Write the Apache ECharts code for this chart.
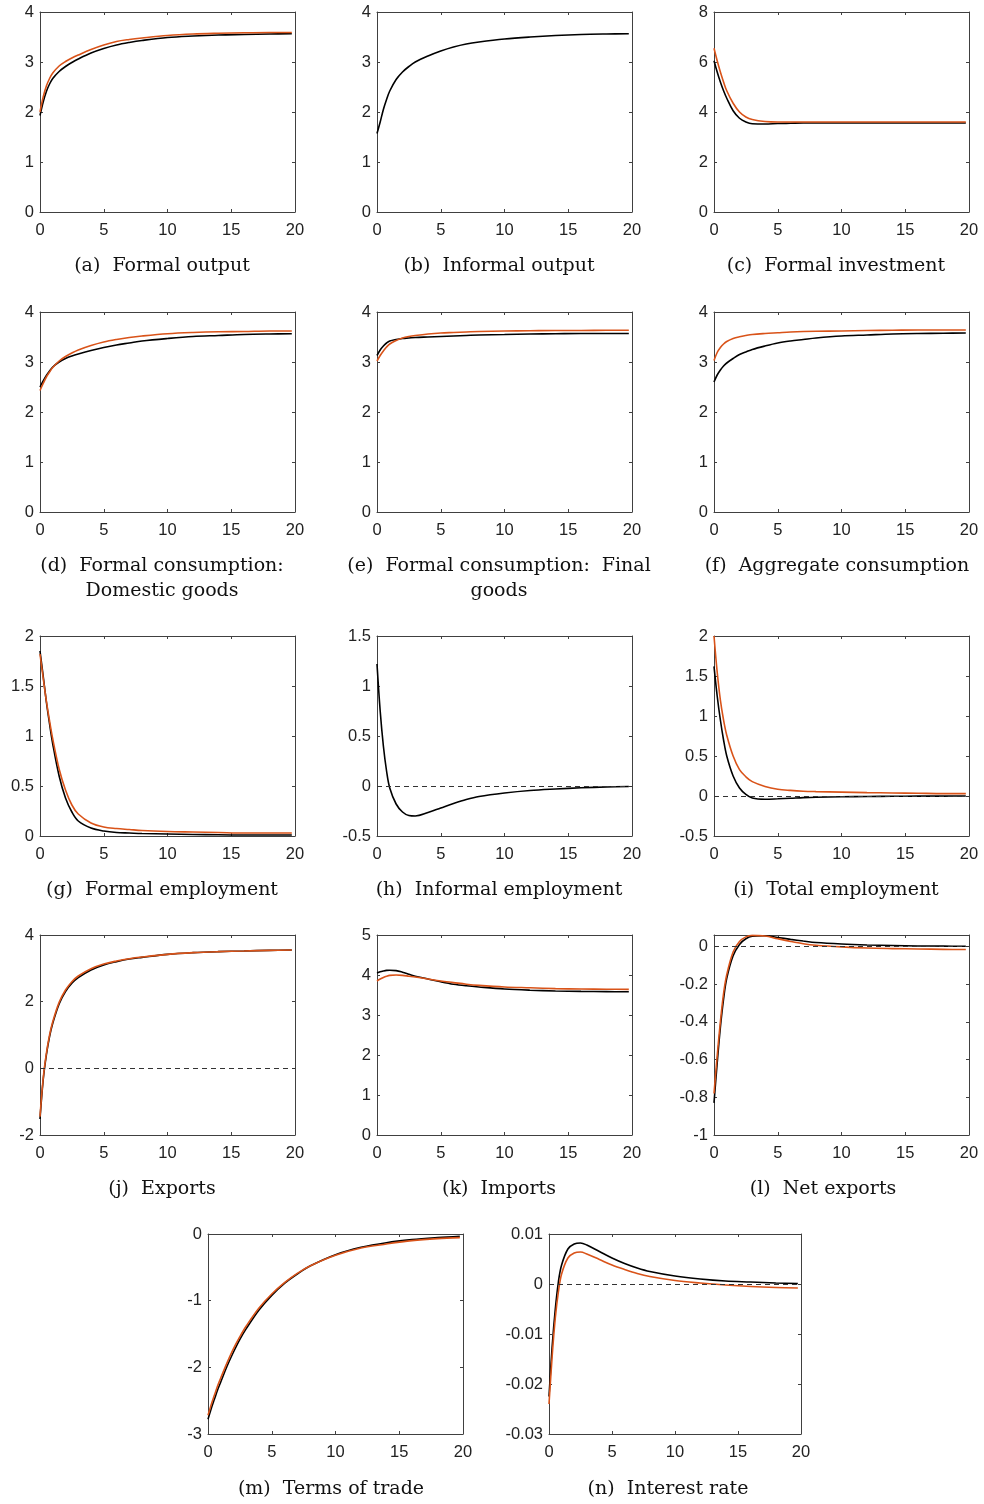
<!DOCTYPE html>
<html>
<head>
<meta charset="utf-8">
<script src="https://cdn.jsdelivr.net/npm/echarts@6/dist/echarts.min.js"></script>
<style>
  html, body { margin: 0; padding: 0; background: #ffffff; }
  #chart { width: 984px; height: 1504px; }
</style>
</head>
<body>
<div id="chart"></div>
<script>
// Horizon (quarters) shared by every impulse response
const periods = [0, 0.25, 0.5, 0.75, 1, 1.5, 2, 2.5, 3, 4, 5, 6, 7, 8, 10, 12, 14, 16, 18, 19.75];

// (a) Formal output
const formalOutputBase = [1.93, 2.2, 2.41, 2.56, 2.67, 2.81, 2.91, 2.99, 3.06, 3.18, 3.27, 3.34, 3.39, 3.43, 3.49, 3.52, 3.54, 3.55, 3.56, 3.565];
const formalOutputAlt  = [2.0, 2.3, 2.52, 2.67, 2.78, 2.92, 3.01, 3.08, 3.14, 3.25, 3.34, 3.41, 3.45, 3.48, 3.53, 3.56, 3.575, 3.585, 3.59, 3.59];
// (b) Informal output
const informalOutputBase = [1.57, 1.8, 2.05, 2.25, 2.42, 2.65, 2.8, 2.91, 3.0, 3.12, 3.22, 3.3, 3.36, 3.4, 3.46, 3.5, 3.53, 3.55, 3.56, 3.565];
// (c) Formal investment
const formalInvestmentBase = [6.05, 5.6, 5.2, 4.85, 4.55, 4.05, 3.75, 3.6, 3.53, 3.52, 3.54, 3.55, 3.56, 3.56, 3.56, 3.56, 3.56, 3.56, 3.56, 3.56];
const formalInvestmentAlt  = [6.55, 6.05, 5.6, 5.2, 4.85, 4.35, 4.0, 3.8, 3.7, 3.62, 3.6, 3.6, 3.6, 3.6, 3.6, 3.6, 3.6, 3.6, 3.6, 3.6];
// (d) Formal consumption: domestic goods
const consDomesticBase = [2.5, 2.62, 2.73, 2.82, 2.9, 3.0, 3.07, 3.12, 3.16, 3.23, 3.29, 3.34, 3.38, 3.42, 3.47, 3.51, 3.53, 3.55, 3.56, 3.565];
const consDomesticAlt  = [2.43, 2.57, 2.7, 2.8, 2.89, 3.02, 3.11, 3.18, 3.24, 3.33, 3.4, 3.45, 3.49, 3.52, 3.565, 3.59, 3.605, 3.61, 3.62, 3.62];
// (e) Formal consumption: final goods
const consFinalBase = [3.13, 3.24, 3.32, 3.38, 3.42, 3.45, 3.47, 3.48, 3.49, 3.5, 3.51, 3.52, 3.53, 3.54, 3.55, 3.56, 3.565, 3.57, 3.57, 3.57];
const consFinalAlt  = [3.02, 3.13, 3.22, 3.3, 3.36, 3.43, 3.48, 3.51, 3.53, 3.56, 3.58, 3.59, 3.6, 3.61, 3.62, 3.625, 3.63, 3.63, 3.635, 3.635];
// (f) Aggregate consumption
const consAggregateBase = [2.6, 2.74, 2.84, 2.92, 2.98, 3.07, 3.15, 3.2, 3.25, 3.32, 3.38, 3.42, 3.45, 3.48, 3.52, 3.54, 3.56, 3.57, 3.575, 3.58];
const consAggregateAlt  = [3.03, 3.19, 3.29, 3.36, 3.41, 3.47, 3.505, 3.53, 3.55, 3.57, 3.585, 3.6, 3.61, 3.615, 3.62, 3.63, 3.635, 3.64, 3.64, 3.64];
// (g) Formal employment
const formalEmpBase = [1.85, 1.6, 1.34, 1.12, 0.92, 0.6, 0.38, 0.24, 0.15, 0.08, 0.05, 0.035, 0.03, 0.025, 0.02, 0.015, 0.012, 0.01, 0.01, 0.01];
const formalEmpAlt  = [1.82, 1.58, 1.35, 1.15, 0.97, 0.67, 0.46, 0.31, 0.22, 0.13, 0.09, 0.075, 0.065, 0.055, 0.045, 0.04, 0.035, 0.03, 0.03, 0.03];
// (h) Informal employment
const informalEmpBase = [1.22, 0.75, 0.4, 0.15, -0.02, -0.18, -0.26, -0.295, -0.3, -0.265, -0.22, -0.175, -0.135, -0.105, -0.07, -0.045, -0.03, -0.018, -0.01, -0.005];
// (i) Total employment
const totalEmpBase = [1.62, 1.25, 0.95, 0.7, 0.5, 0.25, 0.1, 0.02, -0.025, -0.04, -0.035, -0.028, -0.02, -0.015, -0.01, -0.006, -0.004, -0.002, -0.001, 0];
const totalEmpAlt  = [2.0, 1.55, 1.2, 0.95, 0.76, 0.5, 0.33, 0.24, 0.18, 0.12, 0.085, 0.07, 0.06, 0.055, 0.048, 0.042, 0.038, 0.034, 0.03, 0.03];
// (j) Exports
const exportsBase = [-1.52, -0.35, 0.4, 0.95, 1.35, 1.93, 2.3, 2.55, 2.72, 2.95, 3.1, 3.2, 3.28, 3.33, 3.42, 3.47, 3.5, 3.52, 3.54, 3.55];
const exportsAlt  = [-1.45, -0.3, 0.45, 1.0, 1.4, 1.98, 2.35, 2.6, 2.77, 2.99, 3.13, 3.22, 3.29, 3.34, 3.42, 3.47, 3.5, 3.52, 3.54, 3.55];
// (k) Imports
const importsBase = [4.05, 4.08, 4.1, 4.115, 4.12, 4.11, 4.07, 4.02, 3.97, 3.9, 3.83, 3.77, 3.73, 3.7, 3.65, 3.62, 3.6, 3.59, 3.585, 3.58];
const importsAlt  = [3.85, 3.9, 3.94, 3.97, 3.99, 4.0, 3.99, 3.97, 3.95, 3.9, 3.85, 3.81, 3.77, 3.74, 3.7, 3.68, 3.66, 3.65, 3.645, 3.64];
// (l) Net exports
const netExportsBase = [-0.83, -0.62, -0.43, -0.28, -0.17, -0.05, 0.01, 0.04, 0.053, 0.056, 0.047, 0.037, 0.028, 0.02, 0.012, 0.007, 0.004, 0.002, 0.001, 0.0];
const netExportsAlt  = [-0.78, -0.58, -0.4, -0.25, -0.15, -0.03, 0.025, 0.05, 0.058, 0.055, 0.04, 0.026, 0.014, 0.006, -0.003, -0.009, -0.012, -0.014, -0.016, -0.017];
// (m) Terms of trade
const termsOfTradeBase = [-2.78, -2.62, -2.48, -2.34, -2.22, -1.98, -1.77, -1.58, -1.42, -1.14, -0.92, -0.74, -0.6, -0.48, -0.31, -0.2, -0.13, -0.085, -0.055, -0.035];
const termsOfTradeAlt  = [-2.72, -2.56, -2.42, -2.28, -2.16, -1.93, -1.72, -1.54, -1.38, -1.11, -0.9, -0.73, -0.59, -0.48, -0.32, -0.21, -0.15, -0.1, -0.07, -0.055];
// (n) Interest rate
const interestBase = [-0.0225, -0.0125, -0.005, 0.0005, 0.0038, 0.007, 0.008, 0.0082, 0.0078, 0.0065, 0.0052, 0.0041, 0.0032, 0.0025, 0.0016, 0.001, 0.0006, 0.0004, 0.0002, 0.0001];
const interestAlt  = [-0.024, -0.0145, -0.0068, -0.0015, 0.002, 0.0052, 0.0062, 0.0064, 0.006, 0.0049, 0.0038, 0.0029, 0.0021, 0.0015, 0.0007, 0.0002, -0.0002, -0.0005, -0.0007, -0.0008];

// Panel captions
const captions = [
  '(a)  Formal output', '(b)  Informal output', '(c)  Formal investment',
  '(d)  Formal consumption:\nDomestic goods', '(e)  Formal consumption:  Final\ngoods', '(f)  Aggregate consumption',
  '(g)  Formal employment', '(h)  Informal employment', '(i)  Total employment',
  '(j)  Exports', '(k)  Imports', '(l)  Net exports',
  '(m)  Terms of trade', '(n)  Interest rate'
];

// Y-axis ranges: [min, max, interval]
const yRanges = [
  [0, 4, 1], [0, 4, 1], [0, 8, 2],
  [0, 4, 1], [0, 4, 1], [0, 4, 1],
  [0, 2, 0.5], [-0.5, 1.5, 0.5], [-0.5, 2, 0.5],
  [-2, 4, 2], [0, 5, 1], [-1, 0.06, 0.2],
  [-3, 0, 1], [-0.03, 0.01, 0.01]
];

// Series per panel (baseline first, alternative drawn on top)
const panelSeries = [
  [formalOutputBase, formalOutputAlt], [informalOutputBase], [formalInvestmentBase, formalInvestmentAlt],
  [consDomesticBase, consDomesticAlt], [consFinalBase, consFinalAlt], [consAggregateBase, consAggregateAlt],
  [formalEmpBase, formalEmpAlt], [informalEmpBase], [totalEmpBase, totalEmpAlt],
  [exportsBase, exportsAlt], [importsBase, importsAlt], [netExportsBase, netExportsAlt],
  [termsOfTradeBase, termsOfTradeAlt], [interestBase, interestAlt]
];

// Panels that carry a dashed zero reference
const zeroLine = [false, false, false, false, false, false, false, true, true, true, false, true, false, true];

// Layout: plot boxes [left, top, width, height] and caption anchors [x, y]
const boxes = [
  [40, 12, 255, 200], [377, 12, 255, 200], [714, 12, 255, 200],
  [40, 312, 255, 200], [377, 312, 255, 200], [714, 312, 255, 200],
  [40, 636, 255, 200], [377, 636, 255, 200], [714, 636, 255, 200],
  [40, 935, 255, 200], [377, 935, 255, 200], [714, 935, 255, 200],
  [208, 1234, 255, 200], [549, 1234, 252, 200]
];
const captionAnchors = [
  [162, 266], [499, 266], [836, 266],
  [162, 579], [499, 579], [837, 566],
  [162, 890], [499, 890], [836, 890],
  [162, 1189], [499, 1189], [823, 1189],
  [331, 1489], [668, 1489]
];

const BASE_COLOR = '#000000';
const ALT_COLOR = '#D95319';
const BOX_COLOR = '#404040';
const LABEL_STYLE = { color: '#222222', fontFamily: 'Liberation Sans, Arial, sans-serif', fontSize: 16.5 };

const grids = [], xAxes = [], yAxes = [], series = [], graphics = [];

boxes.forEach((b, i) => {
  grids.push({ left: b[0], top: b[1], width: b[2], height: b[3], containLabel: false });
  const [ymin, ymax, yint] = yRanges[i];
  const lineStyle = { color: BOX_COLOR, width: 1 };
  const tick = { show: true, inside: true, length: 3, lineStyle };
  const xBase = {
    type: 'value', gridIndex: i, min: 0, max: 20, interval: 5,
    axisLine: { show: true, onZero: false, lineStyle },
    axisTick: tick, splitLine: { show: false }
  };
  xAxes.push(Object.assign({}, xBase, {
    position: 'bottom',
    axisLabel: Object.assign({ show: true, margin: 10 }, LABEL_STYLE)
  }));
  xAxes.push(Object.assign({}, xBase, { position: 'top', axisLabel: { show: false } }));
  const yBase = {
    type: 'value', gridIndex: i, min: ymin, max: ymax, interval: yint,
    axisLine: { show: true, onZero: false, lineStyle },
    axisTick: tick, splitLine: { show: false }
  };
  yAxes.push(Object.assign({}, yBase, {
    position: 'left',
    axisLabel: Object.assign({
      show: true, margin: 6,
      showMaxLabel: (ymax / yint) === Math.round(ymax / yint),
      formatter: v => String(parseFloat(v.toFixed(4)))
    }, LABEL_STYLE)
  }));
  yAxes.push(Object.assign({}, yBase, { position: 'right', axisLabel: { show: false } }));

  panelSeries[i].forEach((vals, k) => {
    const s = {
      type: 'line',
      name: k === 0 ? 'Baseline' : 'Alternative',
      xAxisIndex: 2 * i, yAxisIndex: 2 * i,
      data: vals.map((v, j) => [periods[j], v]),
      showSymbol: false, symbol: 'none',
      smooth: 0.35,
      lineStyle: { color: k === 0 ? BASE_COLOR : ALT_COLOR, width: 1.6 },
      z: 3 + k, silent: true
    };
    if (k === 0 && zeroLine[i]) {
      s.markLine = {
        silent: true, symbol: ['none', 'none'], label: { show: false },
        lineStyle: { type: [5, 4], color: '#333333', width: 1 },
        data: [{ yAxis: 0 }], animation: false
      };
    }
    series.push(s);
  });

  graphics.push({
    type: 'text', x: captionAnchors[i][0], y: captionAnchors[i][1],
    style: {
      text: captions[i], align: 'center', verticalAlign: 'middle',
      fontFamily: 'DejaVu Serif, serif', fontSize: 19, lineHeight: 25, fill: '#111111'
    }
  });
});

const chart = echarts.init(document.getElementById('chart'), null, { renderer: 'canvas' });
chart.setOption({
  animation: false,
  backgroundColor: '#ffffff',
  grid: grids,
  xAxis: xAxes,
  yAxis: yAxes,
  series: series,
  graphic: graphics
});
</script>
</body>
</html>
